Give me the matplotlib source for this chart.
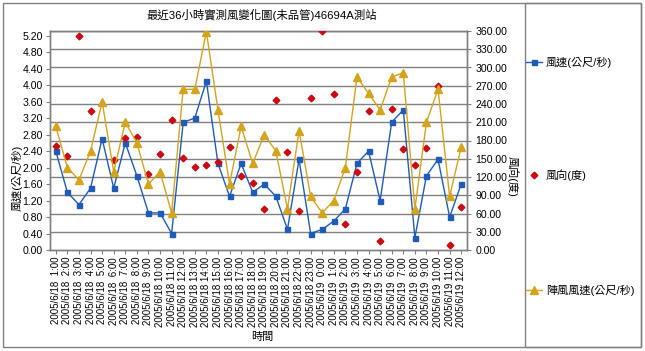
import matplotlib
matplotlib.use("Agg")
import matplotlib.pyplot as plt
import numpy as np
from matplotlib.patches import Rectangle

plt.rcParams['font.family'] = ['Liberation Sans', 'Noto Sans CJK TC', 'DejaVu Sans']

times = [
    "2005/6/18  1:00", "2005/6/18  2:00", "2005/6/18  3:00", "2005/6/18  4:00",
    "2005/6/18  5:00", "2005/6/18  6:00", "2005/6/18  7:00", "2005/6/18  8:00",
    "2005/6/18  9:00", "2005/6/18 10:00", "2005/6/18 11:00", "2005/6/18 12:00",
    "2005/6/18 13:00", "2005/6/18 14:00", "2005/6/18 15:00", "2005/6/18 16:00",
    "2005/6/18 17:00", "2005/6/18 18:00", "2005/6/18 19:00", "2005/6/18 20:00",
    "2005/6/18 21:00", "2005/6/18 22:00", "2005/6/18 23:00", "2005/6/19  0:00",
    "2005/6/19  1:00", "2005/6/19  2:00", "2005/6/19  3:00", "2005/6/19  4:00",
    "2005/6/19  5:00", "2005/6/19  6:00", "2005/6/19  7:00", "2005/6/19  8:00",
    "2005/6/19  9:00", "2005/6/19 10:00", "2005/6/19 11:00", "2005/6/19 12:00",
]
wind_speed = [2.4, 1.4, 1.1, 1.5, 2.7, 1.5, 2.6, 1.8, 0.9, 0.9,
              0.4, 3.1, 3.2, 4.1, 2.1, 1.3, 2.1, 1.4, 1.6, 1.3,
              0.5, 2.2, 0.4, 0.5, 0.7, 1.0, 2.1, 2.4, 1.2, 3.1,
              3.4, 0.3, 1.8, 2.2, 0.8, 1.6]
wind_dir = [171, 155, 352, 229, np.nan, 148, 184, 186, 125, 158,
            214, 152, 137, 139, 144, 170, 122, 110, 68, 247,
            161, 64, 250, 360, 256, 43, 128, 229, 15, 232,
            166, 140, 167, 270, 8, 70]
gust_speed = [3.0, 2.0, 1.7, 2.4, 3.6, 1.9, 3.1, 2.6, 1.6, 1.9,
              0.9, 3.9, 3.9, 5.3, 3.4, 1.6, 3.0, 2.1, 2.8, 2.4,
              1.0, 2.9, 1.3, 0.9, 1.2, 2.0, 4.2, 3.8, 3.4, 4.2,
              4.3, 1.0, 3.1, 3.9, 1.3, 2.5]
left_ticks = [0.0, 0.4, 0.8, 1.2, 1.6, 2.0, 2.4, 2.8, 3.2, 3.6, 4.0, 4.4, 4.8, 5.2]
right_ticks = [0, 30, 60, 90, 120, 150, 180, 210, 240, 270, 300, 330, 360]

W, H = 645, 351
fig = plt.figure(figsize=(W / 100, H / 100), dpi=100)
fig.patch.set_facecolor('white')

def fx(px):
    return px / W

def fy(py):
    return 1 - py / H

left, right, top, bottom = 50, 467, 31, 250
ax = fig.add_axes([fx(left), fy(bottom), fx(right - left), fy(top) - fy(bottom)])
ax2 = ax.twinx()

x = np.arange(len(times))
gray = '#808080'
blue = '#1f5cb8'
red = '#cc0a14'
gold = '#d4a41c'
LMAX = 5.315

ax.set_xlim(-0.5, len(times) - 0.5)
ax.set_ylim(0, LMAX)
ax2.set_ylim(0, 360)

# gridlines from the right axis
for t in right_ticks[1:]:
    ax2.axhline(t, color=gray, lw=1.0, zorder=0)

ax.set_zorder(ax2.get_zorder() + 1)
ax.patch.set_visible(False)
l1, = ax.plot(x, wind_speed, color=blue, lw=1.0, marker='s', ms=3.6,
              mfc=blue, mec=blue, zorder=3, label='風速(公尺/秒)')
l2, = ax.plot(x, np.array(wind_dir) / 360 * LMAX, ls='none', marker='D', ms=3.4,
              mfc=red, mec=red, zorder=4, label='風向(度)')
l3, = ax.plot(x, gust_speed, color=gold, lw=1.0, marker='^', ms=5.2,
              mfc=gold, mec=gold, zorder=5, label='陣風風速(公尺/秒)')

ax.set_yticks(left_ticks)
ax.set_yticklabels([f"{v:.2f}" for v in left_ticks])
ax2.set_yticks(right_ticks)
ax2.set_yticklabels([f"{v:.2f}" for v in right_ticks])
ax.set_xticks(x)
ax.set_xticklabels(times, rotation=90, fontsize=7.0, va='top', ha='center')

for a in (ax, ax2):
    for s in a.spines.values():
        s.set_color(gray)
        s.set_linewidth(1.0)
ax.tick_params(axis='y', labelsize=7.6, colors='black', length=3, color=gray, pad=2)
ax2.tick_params(axis='y', labelsize=7.6, colors='black', length=3, color=gray, pad=3)
ax.tick_params(axis='x', length=3, color=gray, pad=2)

fig.text(fx(262), fy(15), '最近36小時實測風變化圖(未品管)46694A測站', ha='center', va='center', fontsize=8.2)
fig.text(fx(17), fy(178), '風速(公尺/秒)', rotation=90, ha='center', va='center', fontsize=8)
fig.text(fx(513), fy(176), '風向(度)', rotation=-90, ha='center', va='center', fontsize=8)
fig.text(fx(262), fy(337), '時間', ha='center', va='center', fontsize=8)

# frames
fig.patches.append(Rectangle((fx(3), fy(347)), fx(638), fy(3) - fy(347), transform=fig.transFigure,
                             fill=False, ec=gray, lw=1.0))
fig.patches.append(Rectangle((fx(525), fy(347)), fx(116), fy(3) - fy(347), transform=fig.transFigure,
                             fill=False, ec=gray, lw=1.0))

# legend entries
for line, ypx in ((l1, 62), (l2, 175), (l3, 290)):
    fig.legend([line], [line.get_label()], loc='center left',
               bbox_to_anchor=(fx(526), fy(ypx)), frameon=False, fontsize=8,
               handlelength=1.4, handletextpad=0.4, borderaxespad=0, borderpad=0)

fig.savefig('out.png', dpi=100)
